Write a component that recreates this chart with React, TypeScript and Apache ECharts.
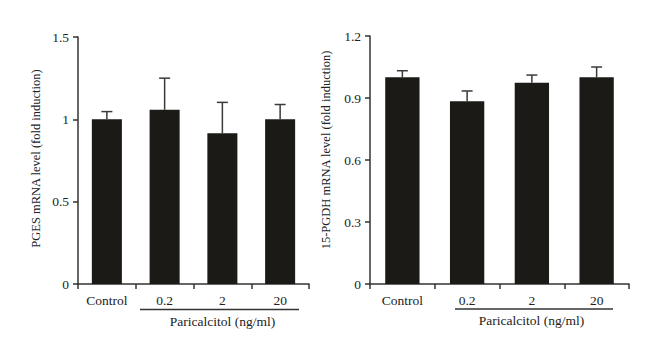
import React, { useEffect, useRef } from "react";
import * as echarts from "echarts";

const categories = ["Control", "0.2", "2", "20"];
const pgesMean = [1.0, 1.058, 0.915, 1.0];
const pgesErr = [0.047, 0.192, 0.188, 0.09];
const pgdhMean = [1.0, 0.884, 0.974, 1.0];
const pgdhErr = [0.032, 0.05, 0.037, 0.05];
const leftTicks = { min: 0, max: 1.5, interval: 0.5 };
const rightTicks = { min: 0, max: 1.2, interval: 0.3 };
const leftTitle = "PGES mRNA level (fold induction)";
const rightTitle = "15-PGDH mRNA level (fold induction)";
const groupLabel = "Paricalcitol (ng/ml)";

const FONT = "'Liberation Serif', 'DejaVu Serif', serif";
const BAR = "#1b1a17";
const AX = "#333333";
const TXT = "#222222";

export default function App() {
  const ref = useRef<HTMLDivElement>(null);
  useEffect(() => {
    document.body.style.margin = "0";
    if (!ref.current) return;
    const chart = echarts.init(ref.current, null, { renderer: "svg" });

    const errRender = (params: any, api: any) => {
      const base = api.coord([api.value(0), api.value(1)]);
      const top = api.coord([api.value(0), api.value(2)]);
      const style = { stroke: "#3a3a3a", lineWidth: 1.5 };
      return {
        type: "group",
        children: [
          { type: "line", shape: { x1: base[0], y1: base[1], x2: top[0], y2: top[1] }, style },
          { type: "line", shape: { x1: top[0] - 5.5, y1: top[1], x2: top[0] + 5.5, y2: top[1] }, style },
        ],
      };
    };

    const xAxisCommon = {
      type: "category",
      data: categories,
      axisLine: { lineStyle: { color: AX, width: 1.5 } },
      axisTick: { show: true, length: 5, lineStyle: { color: AX, width: 1.5 } },
      axisLabel: { color: TXT, fontFamily: FONT, fontSize: 13.5, margin: 9 },
    };
    const yAxisCommon = {
      type: "value",
      splitLine: { show: false },
      axisLine: { show: true, lineStyle: { color: AX, width: 1.5 } },
      axisTick: { show: true, length: 5, lineStyle: { color: AX, width: 1.5 } },
      axisLabel: { color: TXT, fontFamily: FONT, fontSize: 13.5, margin: 9 },
    };

    const yTitle = (text: string, x: number, y: number) => ({
      type: "text",
      x,
      y,
      rotation: Math.PI / 2,
      style: { text, fill: TXT, font: `12.5px ${FONT}`, align: "center", verticalAlign: "middle" },
    });

    chart.setOption({
      animation: false,
      backgroundColor: "#ffffff",
      grid: [
        { left: 78, top: 37, width: 231, height: 247 },
        { left: 370, top: 36, width: 259, height: 248 },
      ],
      xAxis: [
        { ...xAxisCommon, gridIndex: 0 },
        { ...xAxisCommon, gridIndex: 1 },
      ],
      yAxis: [
        { ...yAxisCommon, gridIndex: 0, ...leftTicks },
        { ...yAxisCommon, gridIndex: 1, ...rightTicks },
      ],
      series: [
        {
          type: "bar", xAxisIndex: 0, yAxisIndex: 0, data: pgesMean,
          barWidth: "52%", itemStyle: { color: BAR },
        },
        {
          type: "custom", xAxisIndex: 0, yAxisIndex: 0, renderItem: errRender,
          encode: { x: 0, y: [1, 2] },
          data: pgesMean.map((m, i) => [i, m, m + pgesErr[i]]),
          z: 3,
        },
        {
          type: "bar", xAxisIndex: 1, yAxisIndex: 1, data: pgdhMean,
          barWidth: "53%", itemStyle: { color: BAR },
        },
        {
          type: "custom", xAxisIndex: 1, yAxisIndex: 1, renderItem: errRender,
          encode: { x: 0, y: [1, 2] },
          data: pgdhMean.map((m, i) => [i, m, m + pgdhErr[i]]),
          z: 3,
        },
      ],
      graphic: [
        yTitle(leftTitle, 36, 158.5),
        yTitle(rightTitle, 326, 150),
        { type: "line", shape: { x1: 140, y1: 309.5, x2: 299, y2: 309.5 }, style: { stroke: AX, lineWidth: 1.5 } },
        { type: "text", x: 222.5, y: 321, style: { text: groupLabel, fill: TXT, font: `13.5px ${FONT}`, align: "center", verticalAlign: "middle" } },
        { type: "line", shape: { x1: 455, y1: 309, x2: 613, y2: 309 }, style: { stroke: AX, lineWidth: 1.5 } },
        { type: "text", x: 531.5, y: 320, style: { text: groupLabel, fill: TXT, font: `13.5px ${FONT}`, align: "center", verticalAlign: "middle" } },
      ],
    });
    return () => chart.dispose();
  }, []);
  return <div ref={ref} style={{ width: 660, height: 359 }} />;
}
